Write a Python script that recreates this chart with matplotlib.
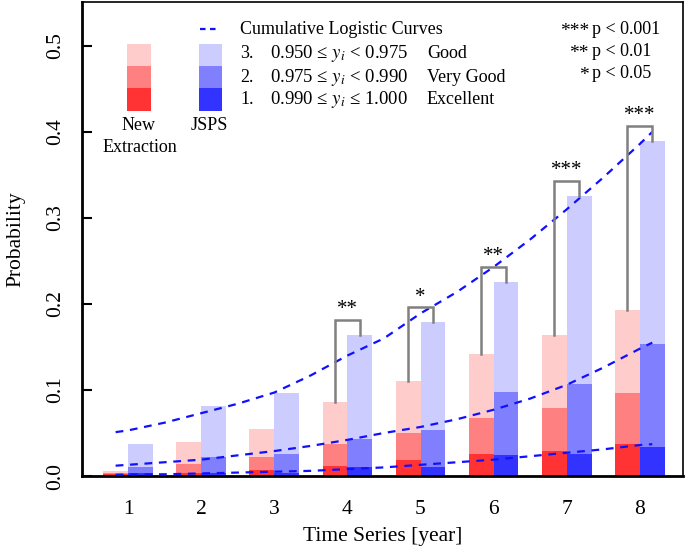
import matplotlib
matplotlib.use("Agg")
import matplotlib.pyplot as plt
from matplotlib.patches import Rectangle
import numpy as np

plt.rcParams['font.family'] = ['Liberation Serif', 'DejaVu Serif']
plt.rcParams['mathtext.fontset'] = 'stix'

# datos
years = [1, 2, 3, 4, 5, 6, 7, 8]
# acumulados: Excellent, Excellent+Very Good, Excellent+Very Good+Good
red_exc = [0.002, 0.004, 0.007, 0.012, 0.019, 0.026, 0.029, 0.037]
red_vg = [0.004, 0.014, 0.022, 0.037, 0.050, 0.067, 0.079, 0.097]
red_good = [0.006, 0.040, 0.055, 0.086, 0.110, 0.142, 0.164, 0.193]
blue_exc = [0.003, 0.004, 0.004, 0.010, 0.011, 0.024, 0.026, 0.034]
blue_vg = [0.011, 0.022, 0.026, 0.043, 0.054, 0.098, 0.107, 0.154]
blue_good = [0.037, 0.081, 0.097, 0.164, 0.179, 0.226, 0.326, 0.390]

sig_years = [4, 5, 6, 7, 8]
sig_stars = ['**', '*', '**', '***', '***']

# curvas logisticas acumuladas
curve_x = [0.83, 1.0, 1.5, 2.0, 2.5, 3.0, 3.5, 4.0, 4.5, 5.0, 5.5, 6.0, 6.5, 7.0, 7.5, 8.0, 8.17]
curve_good = [0.051, 0.053, 0.062, 0.073, 0.084, 0.097, 0.117, 0.140, 0.160, 0.189, 0.214, 0.243, 0.275, 0.310, 0.347, 0.386, 0.400]
curve_vg = [0.012, 0.013, 0.016, 0.019, 0.024, 0.029, 0.035, 0.042, 0.050, 0.057, 0.066, 0.077, 0.090, 0.106, 0.126, 0.148, 0.155]
curve_exc = [0.0015, 0.0017, 0.002, 0.003, 0.004, 0.005, 0.006, 0.008, 0.010, 0.013, 0.016, 0.019, 0.023, 0.027, 0.031, 0.036, 0.037]

red_cols = ['#FFCCCC', '#FF8080', '#FF3333']
blue_cols = ['#CCCCFF', '#8080FF', '#3333FF']
W, H = 685, 551

fig = plt.figure(figsize=(W / 100, H / 100), dpi=100)
ax = fig.add_axes([82 / W, (H - 476) / H, (683 - 82) / W, (476 - 2) / H])

x = np.array(years)
bw = 0.34
for vals, c in zip([red_good, red_vg, red_exc], red_cols):
    ax.bar(x - bw / 2, vals, width=bw, color=c, zorder=1)
for vals, c in zip([blue_good, blue_vg, blue_exc], blue_cols):
    ax.bar(x + bw / 2, vals, width=bw, color=c, zorder=1)

for cy in [curve_good, curve_vg, curve_exc]:
    ax.plot(curve_x, cy, color='#1010FF', lw=1.6, ls=(0, (3.5, 3)), zorder=3)

# corchetes de significancia
for yr, st in zip(sig_years, sig_stars):
    i = years.index(yr)
    top = blue_good[i] + 0.017
    xl, xr = yr - bw / 2, yr + bw / 2
    ax.plot([xl, xl, xr, xr], [red_good[i], top, top, blue_good[i]],
            color='#808080', lw=1.8, zorder=4, solid_joinstyle='miter')
    ax.text(yr, top + 0.001, st, ha='center', va='bottom', fontsize=15, zorder=5)

ax.set_xlim(0.37, 8.59)
ax.set_ylim(0, 0.551)
ax.set_xticks(years)
ax.set_yticks([0.0, 0.1, 0.2, 0.3, 0.4, 0.5])
ax.set_yticklabels(['0.0', '0.1', '0.2', '0.3', '0.4', '0.5'], rotation=90, va='center')
ax.tick_params(axis='y', direction='in', length=7.5, width=1.5, pad=12, labelsize=15.5)
ax.tick_params(axis='x', length=0, pad=17, labelsize=15.5)
ax.set_xlabel('Time Series [year]', fontsize=15.5, labelpad=6)
ax.set_ylabel('Probability', fontsize=15.5, labelpad=15)
for s in ['left', 'bottom']:
    ax.spines[s].set_linewidth(2.0)
for s in ['top', 'right']:
    ax.spines[s].set_linewidth(1.2)

# leyenda
ov = fig.add_axes([0, 0, 1, 1], facecolor='none')
ov.set_xlim(0, W)
ov.set_ylim(H, 0)
ov.axis('off')
seg_y = [44, 66, 88, 111]
for k in range(3):
    ov.add_patch(Rectangle((127, seg_y[k]), 24, seg_y[k + 1] - seg_y[k], color=red_cols[k], lw=0))
    ov.add_patch(Rectangle((199, seg_y[k]), 23, seg_y[k + 1] - seg_y[k], color=blue_cols[k], lw=0))
ov.text(139, 126, 'New', ha='center', va='center', fontsize=13)
ov.text(140, 147, 'Extraction', ha='center', va='center', fontsize=13)
ov.text(209, 126, 'JSPS', ha='center', va='center', fontsize=13)
ov.plot([200, 219], [29, 29], color='#1010FF', lw=1.6, ls=(0, (2.5, 2)))
ov.text(240, 29, 'Cumulative Logistic Curves', va='center', fontsize=13)
rows = [('3.', '0.950 \u2264 $y_i$ < 0.975', 'Good'),
        ('2.', '0.975 \u2264 $y_i$ < 0.990', 'Very Good'),
        ('1.', '0.990 \u2264 $y_i$ \u2264 1.000', 'Excellent')]
for j, (n, expr, lab) in enumerate(rows):
    yy = 54 + 23 * j
    ov.text(240, yy, n, va='center', fontsize=13)
    ov.text(270, yy, expr, va='center', fontsize=13.5)
    ov.text(427, yy, lab, va='center', fontsize=13)

for j, (st, p) in enumerate([('***', 'p < 0.001'), ('**', 'p < 0.01'), ('*', 'p < 0.05')]):
    yy = 29 + 22 * j
    ov.text(589, yy + 2, st, ha='right', va='center', fontsize=14)
    ov.text(592, yy, p, ha='left', va='center', fontsize=13)

fig.savefig('out.png', dpi=100)
